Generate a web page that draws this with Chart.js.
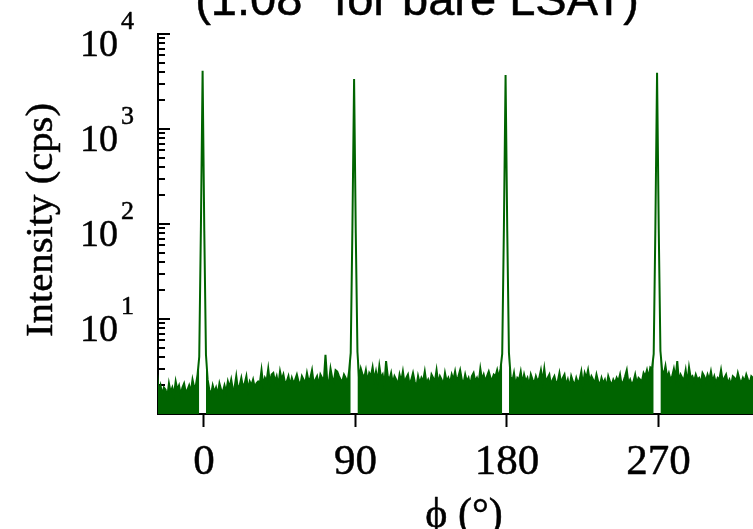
<!DOCTYPE html>
<html>
<head>
<meta charset="utf-8">
<script src="https://cdn.jsdelivr.net/npm/chart.js@4.4.0/dist/chart.umd.min.js"></script>
<style>
  html, body { margin: 0; padding: 0; background: #fff; overflow: hidden; }
  canvas { display: block; }
</style>
</head>
<body>
<canvas id="scan" width="753" height="529"></canvas>
<script>
// Phi scan of the film peak family, log intensity.
const TITLE = '(1.08\u00B0 for bare LSAT)';
const X_TITLE = '\u03D5 (\u00B0)';
const Y_TITLE = 'Intensity (cps)';

const PHI_START = -27.8;   // first scan angle (deg)
const PHI_STEP = 1;        // scan step (deg)
const X_TICKS = [0, 90, 180, 270];
const Y_DECADES = [0, 1, 2, 3, 4];

// Measured intensity (cps), one value per scan step, ten per row.
const intensity = [
  2.6, 1.7, 2.0, 1.6, 1.9, 1.8, 1.5, 2.1, 1.7, 1.9,
  1.6, 2.2, 1.8, 2.0, 1.6, 1.9, 2.1, 1.7, 1.8, 2.0,
  1.7, 2.3, 1.9, 2.0, 2.6, 4.0, 95, 4100, 85, 4.2,
  2.3, 1.8, 1.6, 2.0, 1.7, 1.9, 1.6, 2.1, 1.8, 1.7,
  2.0, 1.7, 2.2, 1.9, 2.3, 1.8, 1.9, 2.5, 1.8, 2.0,
  2.4, 1.9, 2.1, 2.5, 1.8, 2.2, 2.0, 2.3, 1.9, 2.1,
  2.2, 2.1, 2.9, 2.0, 2.4, 2.2, 3.0, 2.1, 2.6, 2.7,
  2.2, 2.5, 2.0, 2.8, 2.3, 2.6, 2.1, 2.2, 2.5, 2.0,
  2.4, 2.1, 2.3, 2.6, 2.2, 2.0, 2.5, 2.3, 2.1, 2.7,
  2.2, 2.4, 2.9, 2.1, 2.3, 2.5, 2.0, 2.6, 2.4, 2.2,
  4.2, 2.3, 2.1, 3.0, 2.4, 2.2, 2.9, 2.8, 2.5, 2.3,
  2.2, 2.6, 2.4, 2.1, 2.8, 4.4, 90, 3350, 80, 4.5,
  2.3, 3.0, 2.6, 2.4, 2.9, 2.2, 2.7, 2.5, 3.1, 2.3,
  2.8, 2.2, 3.2, 2.4, 2.6, 2.0, 3.6, 2.5, 2.3, 2.7,
  2.1, 2.5, 2.3, 2.0, 2.6, 2.2, 2.8, 2.1, 2.4, 2.6,
  2.0, 2.3, 2.7, 2.2, 1.9, 2.5, 2.1, 2.4, 2.2, 2.8,
  2.1, 2.3, 2.0, 2.6, 2.4, 2.2, 2.9, 2.1, 2.5, 2.3,
  2.0, 2.7, 2.2, 2.4, 2.1, 2.6, 2.3, 2.8, 2.2, 2.5,
  2.9, 2.3, 2.1, 2.6, 2.2, 2.4, 2.0, 2.5, 2.7, 2.2,
  2.4, 2.1, 3.0, 2.3, 2.6, 2.2, 2.5, 2.8, 2.4, 2.3,
  2.6, 2.5, 2.9, 2.4, 3.0, 4.3, 90, 3700, 85, 4.4,
  2.5, 2.2, 2.7, 2.0, 2.4, 2.3, 2.8, 2.1, 2.6, 2.2,
  2.4, 2.0, 2.6, 2.3, 2.1, 2.5, 2.2, 2.4, 2.9, 2.2,
  3.0, 2.1, 2.4, 2.6, 2.0, 2.3, 2.5, 2.1, 2.2, 2.7,
  2.1, 2.4, 2.6, 2.0, 2.3, 1.9, 2.5, 2.2, 2.0, 2.4,
  2.1, 2.3, 2.8, 2.0, 2.7, 2.4, 2.9, 2.2, 2.5, 2.3,
  2.1, 2.6, 2.2, 2.0, 2.4, 2.1, 2.3, 1.9, 2.5, 2.2,
  2.0, 2.3, 2.1, 2.4, 2.2, 2.6, 2.0, 2.2, 2.5, 2.9,
  2.1, 2.3, 2.0, 2.2, 2.6, 2.1, 2.4, 2.3, 2.2, 2.7,
  2.5, 2.9, 2.4, 3.1, 3.0, 4.3, 92, 3900, 88, 4.6,
  2.9, 2.6, 3.2, 2.4, 2.7, 2.3, 2.5, 3.0, 2.4, 3.6,
  2.2, 2.6, 2.4, 2.3, 2.9, 2.1, 3.1, 2.4, 2.5, 2.2,
  2.6, 2.3, 2.4, 2.1, 2.7, 2.5, 2.2, 2.6, 2.3, 2.8,
  2.2, 2.5, 2.1, 2.4, 2.3, 2.9, 2.2, 2.4, 2.6, 2.1,
  2.3, 2.0, 2.5, 2.4, 2.2, 2.7, 2.3, 2.1, 2.4, 2.2,
  2.6, 2.3, 2.1, 2.5, 2.4, 2.2
];

// Only the background level is shaded; the sharp reflections stay as outlines.
const FILL_CEILING = 8;

const GREEN = '#006400';
const SERIF = '"Liberation Serif", "DejaVu Serif", serif';
const SANS = '"Liberation Sans", Arial, sans-serif';

const scanPoints = intensity.map((v, i) => ({ x: PHI_START + i * PHI_STEP, y: v }));
const backgroundPoints = intensity.map((v, i) => ({
  x: PHI_START + i * PHI_STEP,
  y: v > FILL_CEILING ? null : v
}));

// Inward ticks on the log axis, drawn beneath the data.
const logTicks = {
  id: 'logTicks',
  beforeDatasetsDraw(chart) {
    const { ctx, chartArea, scales: { y } } = chart;
    ctx.save();
    ctx.strokeStyle = '#000';
    ctx.lineWidth = 2;
    ctx.beginPath();
    for (const d of Y_DECADES) {
      for (let m = 1; m <= 9; m++) {
        if (d === Y_DECADES[Y_DECADES.length - 1] && m > 1) break;
        const py = Math.round(y.getPixelForValue(m * Math.pow(10, d)));
        const len = m === 1 ? 12 : 7;
        ctx.moveTo(chartArea.left, py);
        ctx.lineTo(chartArea.left + len, py);
      }
    }
    ctx.stroke();
    ctx.restore();
  }
};

// Text drawn with a hairline outline so it keeps the weight of the printed figure.
function heavyText(ctx, str, x, y) {
  ctx.fillText(str, x, y);
  ctx.strokeText(str, x, y);
}

// Tick labels, axis titles and heading.
const textLayer = {
  id: 'textLayer',
  afterDraw(chart) {
    const { ctx, chartArea, scales: { x, y } } = chart;
    ctx.save();
    ctx.fillStyle = '#000';
    ctx.strokeStyle = '#000';
    ctx.lineWidth = 0.5;
    ctx.lineJoin = 'round';

    // heading
    ctx.font = '47px ' + SANS;
    ctx.textAlign = 'center';
    ctx.textBaseline = 'alphabetic';
    heavyText(ctx, TITLE, 417, 15);

    // y tick labels: 10 with exponent
    for (const d of Y_DECADES.slice(1)) {
      const py = y.getPixelForValue(Math.pow(10, d));
      ctx.font = '38px ' + SERIF;
      ctx.textAlign = 'right';
      heavyText(ctx, '10', 118, py + 22);
      ctx.font = '26px ' + SERIF;
      ctx.textAlign = 'left';
      heavyText(ctx, String(d), 121, py - 5);
    }

    // x tick labels
    ctx.font = '43px ' + SERIF;
    ctx.textAlign = 'center';
    for (const v of X_TICKS) {
      heavyText(ctx, String(v), x.getPixelForValue(v), 474);
    }

    // x title
    ctx.font = '42px ' + SERIF;
    heavyText(ctx, X_TITLE, 464, 527);

    // y title, rotated
    ctx.font = '38px ' + SERIF;
    const w = ctx.measureText(Y_TITLE).width;
    ctx.translate(52, (chartArea.top + chartArea.bottom) / 2 - 4);
    ctx.rotate(-Math.PI / 2);
    ctx.scale(234 / w, 1);
    ctx.textAlign = 'center';
    heavyText(ctx, Y_TITLE, 0, 0);
    ctx.restore();
  }
};

new Chart(document.getElementById('scan'), {
  type: 'line',
  data: {
    datasets: [
      {
        data: scanPoints,
        borderColor: GREEN,
        borderWidth: 2,
        pointRadius: 0,
        tension: 0,
        fill: false,
        spanGaps: false
      },
      {
        data: backgroundPoints,
        borderWidth: 0,
        borderColor: GREEN,
        backgroundColor: GREEN,
        pointRadius: 0,
        tension: 0,
        fill: 'start',
        spanGaps: false
      }
    ]
  },
  options: {
    responsive: false,
    animation: false,
    devicePixelRatio: 1,
    layout: { padding: { top: 34, left: 0, right: 0, bottom: 0 } },
    plugins: { legend: { display: false }, title: { display: false }, tooltip: { enabled: false } },
    scales: {
      x: {
        type: 'linear',
        min: -27.3,
        max: 326.2,
        afterBuildTicks(scale) { scale.ticks = X_TICKS.map(v => ({ value: v })); },
        afterFit(scale) { scale.height = 115; },
        ticks: { display: false },
        grid: { display: true, drawOnChartArea: false, drawTicks: true, tickLength: 13, tickWidth: 2, tickColor: '#000' },
        border: { display: true, color: '#000', width: 2 }
      },
      y: {
        type: 'logarithmic',
        min: 1,
        max: 10000,
        afterFit(scale) { scale.width = 158; },
        ticks: { display: false },
        grid: { display: false },
        border: { display: true, color: '#000', width: 2 }
      }
    }
  },
  plugins: [logTicks, textLayer]
});
</script>
</body>
</html>
